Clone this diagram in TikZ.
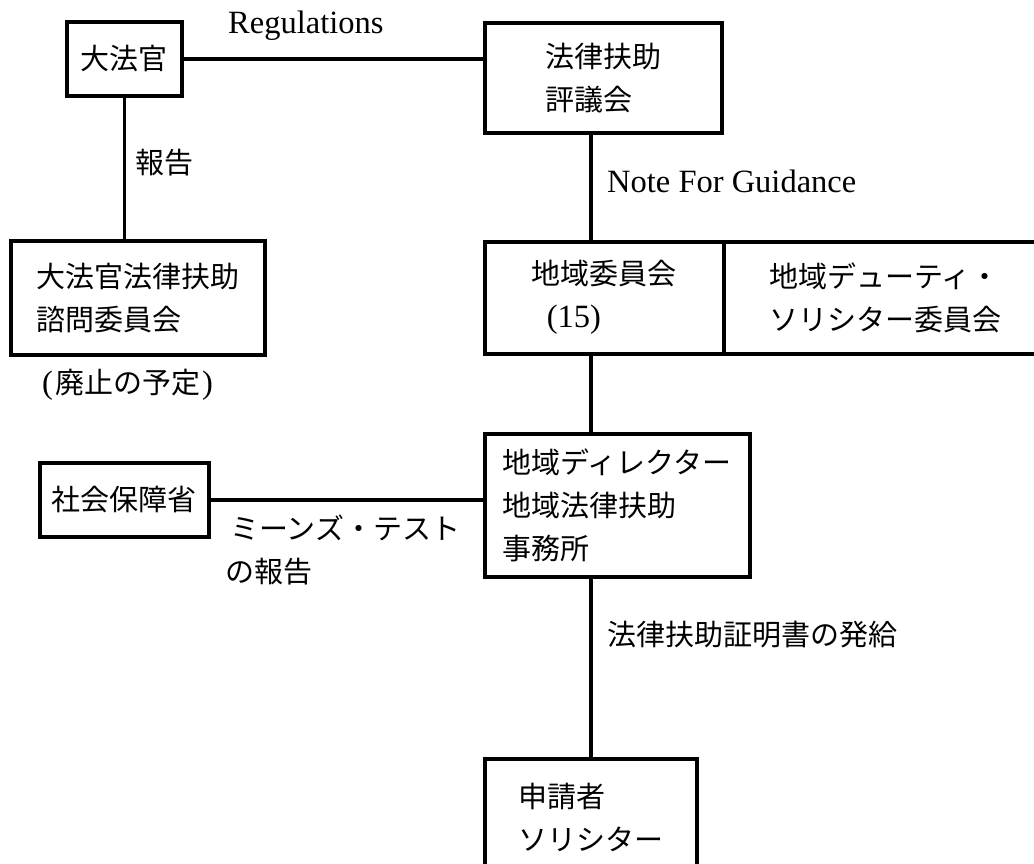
\documentclass[tikz,border=0pt]{standalone}
\usepackage{fontspec}
\newfontfamily\jpf{Noto Sans CJK JP}
\newfontfamily\lsf{Liberation Serif}
\newcommand\jpfont{\jpf\fontsize{29}{43}\selectfont}
\newcommand\lmfont{\lsf\fontsize{32.5}{38}\selectfont}
\begin{document}
\begin{tikzpicture}[x=1pt,y=-1pt,
  box/.style={draw,line width=3.5pt,rectangle,anchor=north west,align=left,font=\jpfont,inner sep=0pt},
  lbl/.style={inner sep=0pt,font=\jpfont,anchor=west},
  lat/.style={inner sep=0pt,font=\lmfont,anchor=base west},
  conn/.style={line width=3.5pt}]
\useasboundingbox (0,0) rectangle (1034,863);
% boxes
\node[box,minimum width=115pt,minimum height=74pt] (chan) at (65,20) {大法官};
\node[box,minimum width=237pt,minimum height=110pt] (council) at (483,21) {法律扶助\\評議会};
\node[box,minimum width=254pt,minimum height=114pt] (adv) at (9,239) {大法官法律扶助\\諮問委員会};
\node[box,minimum width=239pt,minimum height=112pt] (area) at (483,240) {地域委員会\\\hspace*{15pt}{\lmfont (15)}};
\node[box,minimum width=323pt,minimum height=112pt] (duty) at (722,240) {地域デューティ・\\ソリシター委員会};
\node[box,minimum width=265pt,minimum height=143pt] (dir) at (483,432) {地域ディレクター\\地域法律扶助\\事務所};
\node[box,minimum width=169pt,minimum height=74pt] (dss) at (38,461) {社会保障省};
\node[box,minimum width=212pt,minimum height=118pt] (app) at (483,757) {申請者\\ソリシター};
% labels
\node[lat] (regl) at (228,33) {Regulations};
\node[lbl] (rep) at (135,163) {報告};
\node[lbl] (abol) at (42,385) {{\lmfont (}\hspace{2pt}廃止の予定\hspace{2pt}{\lmfont )}};
\node[lat] (nfg) at (607,192) {Note For Guidance};
\node[lbl] (means) at (230,528) {ミーンズ・テスト};
\node[lbl] (meansb) at (225,572) {の報告};
\node[lbl] (cert) at (607,635) {法律扶助証明書の発給};
% connectors
\coordinate (spine) at (591,0);
\draw[conn] (chan.east) -- (chan.east -| council.west);
\draw[conn] (chan.south) -- (chan.south |- adv.north);
\draw[conn] (council.south -| spine) -- (area.north -| spine);
\draw[conn] (area.south -| spine) -- (dir.north -| spine);
\draw[conn] (dir.south -| spine) -- (app.north -| spine);
\draw[conn] (dss.east) -- (dss.east -| dir.west);
\end{tikzpicture}
\end{document}
